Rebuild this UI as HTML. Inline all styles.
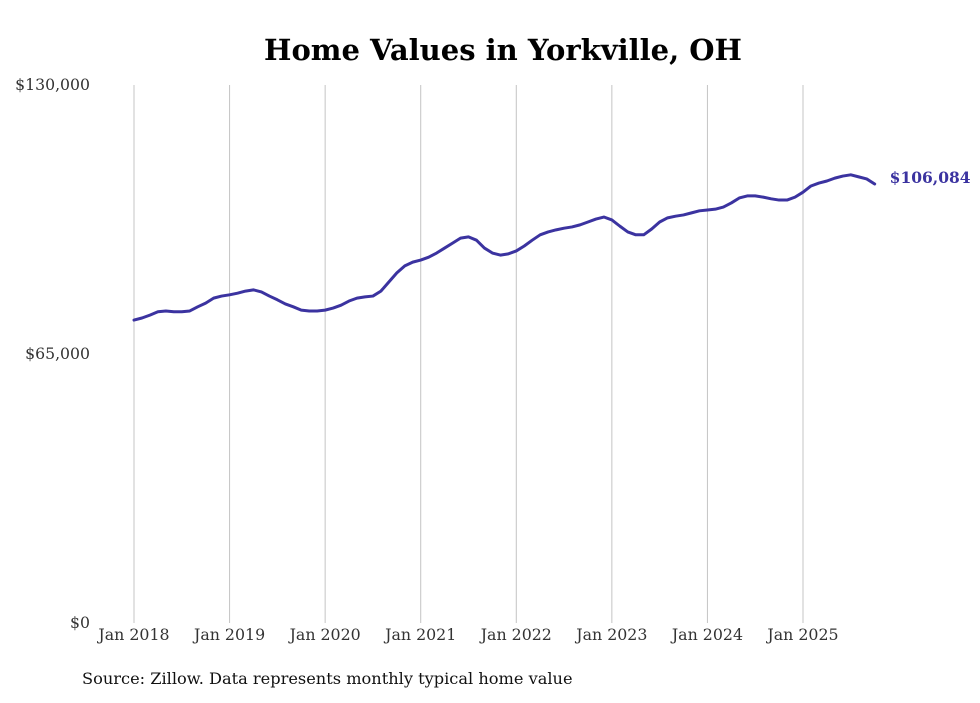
<!DOCTYPE html>
<html><head><meta charset="utf-8"><style>
body{margin:0;background:#fff;width:980px;height:699px;overflow:hidden;font-family:"DejaVu Serif","Liberation Serif",serif}
</style></head><body>
<svg width="980" height="699" id="chart">
<text x="503" y="60" text-anchor="middle" font-size="29" font-weight="bold" fill="#000">Home Values in Yorkville, OH</text>
<g id="grid"></g><g id="yt"></g><g id="xt"></g><g id="ln"></g>
<text x="82" y="684" font-size="16.2" fill="#111">Source: Zillow. Data represents monthly typical home value</text>
</svg>
<script>
const values=[73200,73700,74400,75200,75400,75200,75200,75400,76400,77300,78500,79000,
79300,79700,80200,80500,80000,79000,78100,77100,76400,75600,75400,75400,
75600,76100,76800,77800,78500,78800,79000,80200,82400,84600,86300,87200,
87700,88400,89400,90600,91800,93000,93300,92500,90600,89400,88900,89200,
89900,91100,92500,93800,94500,95000,95400,95700,96200,96900,97600,98100,
97400,95900,94500,93800,93800,95200,96900,97900,98300,98600,99100,99600,
99800,100000,100500,101500,102700,103200,103200,102900,102500,102200,102200,102900,
104100,105600,106300,106800,107500,108000,108300,107800,107300,106084];
const yTicks=[0,65000,130000];
const yTickLabels=["$0","$65,000","$130,000"];
const xTickLabels=["Jan 2018","Jan 2019","Jan 2020","Jan 2021","Jan 2022","Jan 2023","Jan 2024","Jan 2025"];
const lastLabel="$106,084";
const NS="http://www.w3.org/2000/svg";
const x0=134,mStep=(803-134)/84,yTop=85,yBot=623,yMax=130000;
const xs=i=>x0+i*mStep, ys=v=>yBot-v/yMax*(yBot-yTop);
function mk(t,a,p){const e=document.createElementNS(NS,t);for(const k in a)e.setAttribute(k,a[k]);p.appendChild(e);return e;}
const grid=document.getElementById('grid'),yt=document.getElementById('yt'),xt=document.getElementById('xt'),ln=document.getElementById('ln');
xTickLabels.forEach((l,i)=>{
 const x=xs(i*12);
 const g=mk('line',{x1:x,x2:x,y1:yTop,y2:yBot,stroke:'#c4c4c4','stroke-width':1},grid);
 
 
 const t=mk('text',{x:x,y:yBot+17,'text-anchor':'middle','font-size':15.8,fill:'#333'},xt);
 t.textContent=l;
 
 
});
yTicks.forEach((v,i)=>{
 const t=mk('text',{x:90,y:ys(v)+5,'text-anchor':'end','font-size':15.7,fill:'#333'},yt);
 t.textContent=yTickLabels[i];
 
 
});
const p=mk('polyline',{points:values.map((v,i)=>xs(i)+','+ys(v)).join(' '),fill:'none',stroke:'#3b33a0','stroke-width':3,'stroke-linejoin':'round','stroke-linecap':'round'},ln);


const li=values.length-1;
const lt=mk('text',{x:xs(li)+15,y:ys(values[li])-1,'font-size':15.5,'font-weight':'bold',fill:'#3b33a0'},ln);
lt.textContent=lastLabel;


</script>
</body></html>
